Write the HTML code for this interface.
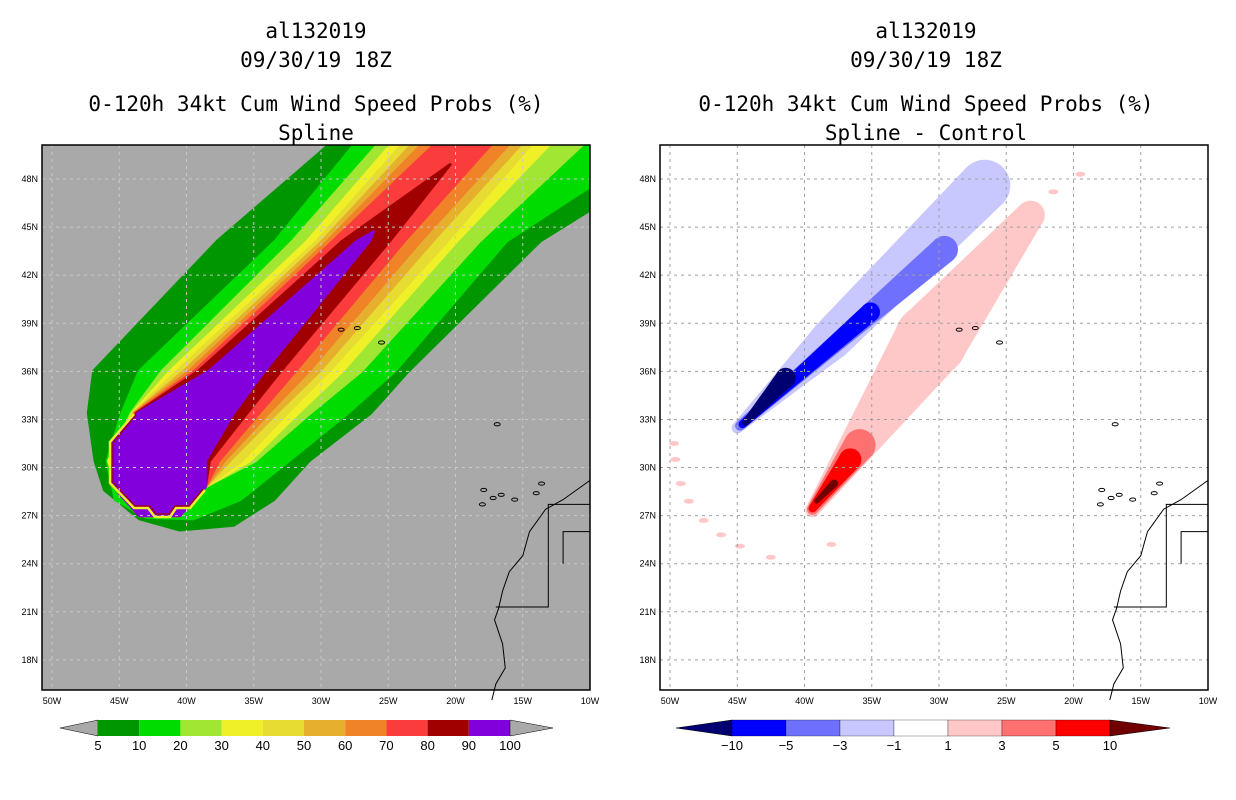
<!DOCTYPE html>
<html><head><meta charset="utf-8"><style>
body{margin:0;background:#fff;width:1236px;height:800px;overflow:hidden}
svg{display:block}
.t{font-family:"DejaVu Sans Mono","Liberation Mono",monospace;font-size:21px;fill:#000;text-anchor:middle}
.tk{font-family:"Liberation Sans",sans-serif;font-size:9px;fill:#000}
.cb{font-family:"Liberation Sans",sans-serif;font-size:13px;fill:#000;text-anchor:middle}
</style></head><body>
<svg id="s" width="1236" height="800" xmlns="http://www.w3.org/2000/svg">
<defs>
<clipPath id="cL"><rect x="42" y="145" width="548" height="545"/></clipPath>
<clipPath id="cR"><rect x="660" y="145" width="548" height="545"/></clipPath>
</defs>
<g>
<text class="t" x="316" y="38">al132019</text>
<text class="t" x="316" y="67">09/30/19 18Z</text>
<text class="t" x="316" y="111">0-120h 34kt Cum Wind Speed Probs (%)</text>
<text class="t" x="316" y="140">Spline</text>
</g>
<g>
<text class="t" x="926" y="38">al132019</text>
<text class="t" x="926" y="67">09/30/19 18Z</text>
<text class="t" x="926" y="111">0-120h 34kt Cum Wind Speed Probs (%)</text>
<text class="t" x="926" y="140">Spline - Control</text>
</g>
<rect x="42" y="145" width="548" height="545" fill="#a9a9a9"/>
<g id="leftFill" clip-path="url(#cL)"></g>
<g id="rightFill" clip-path="url(#cR)"></g>
<g id="grids"></g>
<g id="coast"></g>
<rect x="42" y="145" width="548" height="545" fill="none" stroke="#000" stroke-width="1.5"/>
<rect x="660" y="145" width="548" height="545" fill="none" stroke="#000" stroke-width="1.5"/>
<g id="ticks"></g>
<g id="cbars"></g>
</svg>
<script>
const lonTicks=[50,45,40,35,30,25,20,15,10];
const latTicks=[48,45,42,39,36,33,30,27,24,21,18];
const leftLevels=[5,10,20,30,40,50,60,70,80,90];
const leftColors=["#009600","#00dc00","#a0e632","#f0f028","#e6dc32","#e6af2d","#f08228","#fa3c3c","#a00000","#8200dc"];
// contour edges (deg W) at cross-section latitudes
const rowLats=[49.56,44.13,36.02,33.4,30.41];
const westEdgeLon=[[30.2,37.7,46.9,47.3,46.8],[28.1,33.4,43.5,44.8,45.9],[26.4,32.1,41.8,44.1,45.8],[25.4,31.0,41.2,44.0,45.8],[24.6,30.3,40.7,43.95,45.7],[23.9,29.9,40.2,43.9,45.6],[23.2,29.5,39.8,43.85,45.5],[22.3,29.1,39.4,43.8,45.4],[null,28.4,39.1,43.7,45.4],[null,27.3,38.3,43.6,45.3]];
const eastEdgeLon=[[3.3,13.7,23.5,26.3,30.9],[6.3,16.2,24.5,28.0,32.4],[11.3,18.2,27.0,30.8,34.9],[13.7,19.9,28.4,31.7,35.3],[15.0,20.6,29.4,32.5,35.9],[15.8,21.7,30.1,33.3,36.8],[16.7,22.6,30.9,33.9,37.2],[18.0,23.8,31.9,34.6,37.6],[null,24.9,33.0,35.5,38.3],[null,26.4,34.2,36.5,38.6]];
const tipLon=[null,null,null,null,null,null,null,null,20.4,26.1];
const tipLat=[null,null,null,null,null,null,null,null,48.9,44.7];
const capLonOuter=[46.1,43.5,40.5,36.5,33.5], capLatOuter=[28.6,26.8,26.1,26.4,28.0];
const capLonMid=[45.3,43.0,39.5,36.0], capLatMid=[28.0,26.9,26.8,28.0];
const capLonInner=[45.0,43.5,40.5,38.6], capLatInner=[28.4,27.0,27.0,28.8];
const rightColors=["#000070","#0000ff","#7070ff","#c8c8ff","#ffffff","#ffc8c8","#ff7070","#ff0000","#700000"];
const rightColorLabels=["-10","-5","-3","-1","1","3","5","10"];
// difference swaths: start/end lon,lat and widths (deg)
const swathStartLon=[39.4,30.6,39.4,39.4,39.1, 45.0,38.0,44.8,44.6,44.4];
const swathStartLat=[27.35,37.95,27.4,27.45,27.9, 32.47,38.0,32.6,32.7,32.8];
const swathEndLon=[30.6,23.2,35.9,36.6,37.8, 38.0,26.6,29.6,35.1,41.4];
const swathEndLat=[37.95,45.75,31.4,30.5,29.0, 38.0,47.6,43.6,39.7,35.6];
const swathStartW=[0.9,4.6,0.7,0.5,0.3, 0.7,2.6,0.6,0.5,0.4];
const swathEndW=[4.6,1.8,2.0,1.4,0.5, 2.6,3.2,1.7,1.2,1.25];
const swathColorIdx=[5,5,6,7,8, 3,3,2,1,0];
const speckLon=[49.2,48.6,47.5,46.2,44.8,42.5,49.6,49.7,38.0,21.5,19.5];
const speckLat=[29.0,27.9,26.7,25.8,25.1,24.4,30.5,31.5,25.2,47.2,48.3];
const S=document.getElementById('s'),NS="http://www.w3.org/2000/svg";
function X(lon,ox){return ox+52+(50-lon)*13.45}
function Y(lat){return 179+(48-lat)*16.03}
function mk(t,a,p){const e=document.createElementNS(NS,t);for(const k in a)e.setAttribute(k,a[k]);(p||S).appendChild(e);return e}
// left contours
const LF=document.getElementById('leftFill');
const NR=rowLats.length;
for(let i=0;i<leftLevels.length;i++){
 const W=westEdgeLon[i],E=eastEdgeLon[i];let pts=[];
 const cl=i==0?capLonOuter:(i==1?capLonMid:capLonInner), ca=i==0?capLatOuter:(i==1?capLatMid:capLatInner);
 let r0=0;
 if(W[0]!==null){
  const y0=Y(rowLats[0]),y1=Y(rowLats[1]),yt=60;
  const ext=(a,b)=>{const xa=X(a,0),xb=X(b,0);return xa+(xb-xa)*(yt-y0)/(y1-y0)};
  pts.push([ext(W[0],W[1]),yt]);
 } else { pts.push([X(tipLon[i],0),Y(tipLat[i])]); r0=1; }
 for(let r=r0;r<NR;r++)pts.push([X(W[r],0),Y(rowLats[r])]);
 for(let k=0;k<cl.length;k++)pts.push([X(cl[k],0),Y(ca[k])]);
 for(let r=NR-1;r>=r0;r--)pts.push([X(E[r],0),Y(rowLats[r])]);
 if(r0==0){const y0=Y(rowLats[0]),y1=Y(rowLats[1]),yt=60;const xa=X(E[0],0),xb=X(E[1],0);pts.push([xa+(xb-xa)*(yt-y0)/(y1-y0),yt]);}
 const p=mk('polygon',{points:pts.map(q=>q.join(',')).join(' '),fill:leftColors[i],stroke:leftColors[i],'stroke-width':3,'stroke-linejoin':'round'},LF);
 
 
}
const blob=mk('polygon',{points:"110,442 132,415 205,415 205,490 190,508 176,508 170,517 155,517 148,508 134,508 110,483",fill:"#8200dc"},LF);


mk('polyline',{points:"134,414 110,442 110,483 134,508 148,508 155,517 170,517 176,508 190,508 205,490",fill:'none',stroke:'#f0f028','stroke-width':2.5},LF);
mk('polyline',{points:"136,415 113,443 113,482 135,506 150,506 156,514 169,514 175,506 189,506 203,489",fill:'none',stroke:'#a00000','stroke-width':1.2},LF);
// right swaths
const RF=document.getElementById('rightFill');
for(let i=0;i<swathStartLon.length;i++){
 const x1=X(swathStartLon[i],618),y1=Y(swathStartLat[i]),x2=X(swathEndLon[i],618),y2=Y(swathEndLat[i]);
 const dx=x2-x1,dy=y2-y1,L=Math.hypot(dx,dy),nx=-dy/L,ny=dx/L;
 const r1=swathStartW[i]*8,r2=swathEndW[i]*8,c=rightColors[swathColorIdx[i]];
 const g=mk('g',{},RF);
 
 
 mk('polygon',{points:`${x1+nx*r1},${y1+ny*r1} ${x2+nx*r2},${y2+ny*r2} ${x2-nx*r2},${y2-ny*r2} ${x1-nx*r1},${y1-ny*r1}`,fill:c},g);
 mk('circle',{cx:x1,cy:y1,r:r1,fill:c},g);
 mk('circle',{cx:x2,cy:y2,r:r2,fill:c},g);
}
speckLon.forEach((v,i)=>{const e=mk('ellipse',{cx:X(v,618),cy:Y(speckLat[i]),rx:5,ry:2.5,fill:rightColors[5]},RF);
 
 });
// grids & ticks
const G=document.getElementById('grids'),T=document.getElementById('ticks');
[0,618].forEach(ox=>{
 lonTicks.forEach(v=>{const x=X(v,ox);
  mk('line',{x1:x,y1:145,x2:x,y2:690,stroke:ox?'#a0a0a0':'#c8c8c8','stroke-dasharray':'3,4'},G);
  const t=mk('text',{class:'tk',x:x,y:704,'text-anchor':'middle'},T);t.textContent=v+'W';});
 latTicks.forEach(v=>{const y=Y(v);
  mk('line',{x1:ox+42,y1:y,x2:ox+590,y2:y,stroke:ox?'#a0a0a0':'#c8c8c8','stroke-dasharray':'3,4'},G);
  const t=mk('text',{class:'tk',x:ox+38,y:y+3,'text-anchor':'end'},T);t.textContent=v+'N';});
});
// coast
const C=document.getElementById('coast');
const coastLon=[17.3,17.0,16.3,16.5,17.1,16.8,16.5,16.0,15.0,14.5,13.3,12.0,10.0];
const coastLat=[15.5,16.5,17.5,19.0,20.5,21.2,22.3,23.5,24.5,26.0,27.4,28.0,29.2];
const borderLon=[[17,13.1,13.1,10],[12,12,10]];
const borderLat=[[21.3,21.3,27.7,27.7],[24.0,26.0,26.0]];
[0,618].forEach(ox=>{
 mk('polyline',{points:coastLon.map((v,i)=>X(v,ox)+','+Y(coastLat[i])).join(' '),fill:'none',stroke:'#000','stroke-width':1},C);
 borderLon.forEach((b,j)=>mk('polyline',{points:b.map((v,i)=>X(v,ox)+','+Y(borderLat[j][i])).join(' '),fill:'none',stroke:'#000','stroke-width':1},C));
 [[28.5,38.6],[27.3,38.7],[25.5,37.8],[16.9,32.7],[17.9,28.6],[16.6,28.3],[15.6,28.0],[14.0,28.4],[13.6,29.0],[18.0,27.7],[17.2,28.1]].forEach(p=>
  mk('ellipse',{cx:X(p[0],ox),cy:Y(p[1]),rx:3,ry:1.6,fill:'none',stroke:'#000','stroke-width':1},C));
});
// colorbars
const CB=document.getElementById('cbars');
const lx0=98,lw=41.2;
mk('polygon',{points:`60,728 ${lx0},720 ${lx0},736`,fill:'#a9a9a9',stroke:'#000','stroke-width':0.5},CB);
leftColors.forEach((c,i)=>{const r=mk('rect',{x:lx0+i*lw,y:720,width:lw,height:16,fill:c},CB);
 
 });
mk('polygon',{points:`${lx0+10*lw},720 553,728 ${lx0+10*lw},736`,fill:'#a9a9a9',stroke:'#000','stroke-width':0.5},CB);
leftLevels.concat([100]).forEach((v,i)=>{const t=mk('text',{class:'cb',x:lx0+i*lw,y:750},CB);t.textContent=v;});
const rx0=732,rw=54;
mk('polygon',{points:`676,728 ${rx0},720 ${rx0},736`,fill:rightColors[0],stroke:'#000','stroke-width':0.5},CB);
for(let i=1;i<rightColors.length-1;i++){const r=mk('rect',{x:rx0+(i-1)*rw,y:720,width:rw,height:16,fill:rightColors[i],stroke:'#000','stroke-width':0.3},CB);
 
 }
const re=rx0+7*rw;
mk('polygon',{points:`${re},720 1170,728 ${re},736`,fill:rightColors[8],stroke:'#000','stroke-width':0.5},CB);
rightColorLabels.forEach((s,i)=>{const t=mk('text',{class:'cb',x:rx0+i*rw,y:750},CB);t.textContent=s.replace('-','\u2212');});
</script>
</body></html>
